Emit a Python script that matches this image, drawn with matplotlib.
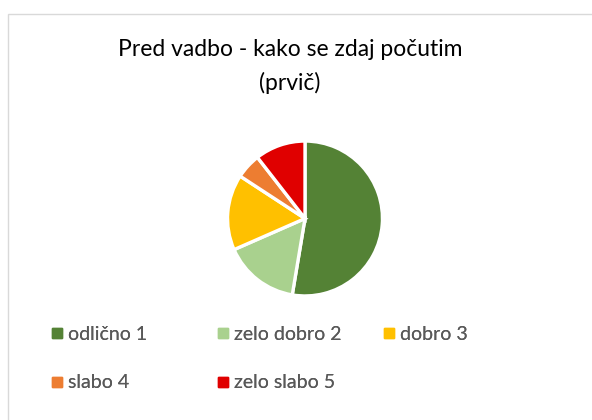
import matplotlib.pyplot as plt
from matplotlib.patches import Rectangle
from matplotlib.lines import Line2D

# data
categories = ['odlično 1', 'zelo dobro 2', 'dobro 3', 'slabo 4', 'zelo slabo 5']
counts = [10, 3, 3, 1, 2]
colors = ['#548235', '#A9D18E', '#FFC000', '#ED7D31', '#E00000']
title = 'Pred vadbo - kako se zdaj počutim\n(prvič)'

W, H = 592, 420
fig = plt.figure(figsize=(W / 100, H / 100), dpi=100)
plt.rcParams['font.family'] = ['Lato', 'DejaVu Sans']

# chart area border
fig.patches.append(Rectangle((8 / W, -0.1), 1.2, (H - 14) / H + 0.1,
                             transform=fig.transFigure, fill=False,
                             edgecolor='#D9D9D9', linewidth=1))

# pie
cx, cy, r = 305, 218.5, 79
ax = fig.add_axes([(cx - r) / W, (H - cy - r) / H, 2 * r / W, 2 * r / H])
ax.pie(counts, colors=colors, startangle=90, counterclock=False, radius=1,
       wedgeprops=dict(edgecolor='white', linewidth=2.4))
ax.set_xlim(-1.02, 1.02)
ax.set_ylim(-1.02, 1.02)
ax.set_aspect('equal')
ax.axis('off')

fig.text(290 / W, 1 - 66.5 / H, title, ha='center', va='center',
         fontsize=16.5, color='#000000', linespacing=1.62)

# legend: Excel lays out fixed-width cells row by row, so one small legend per cell
col_x = [52, 218, 384]
row_y = [334, 383]
for i, (lab, c) in enumerate(zip(categories, colors)):
    h = Line2D([], [], marker='s', linestyle='none', markersize=6.5,
               markerfacecolor=c, markeredgecolor=c)
    leg = fig.legend([h], [lab], loc='center left',
                     bbox_to_anchor=(col_x[i % 3] / W, 1 - row_y[i // 3] / H),
                     frameon=False, fontsize=14, labelcolor='#595959',
                     borderpad=0, borderaxespad=0, handlelength=0.5, handletextpad=0.31)
    fig.add_artist(leg)

fig.savefig('out.png', dpi=100)
